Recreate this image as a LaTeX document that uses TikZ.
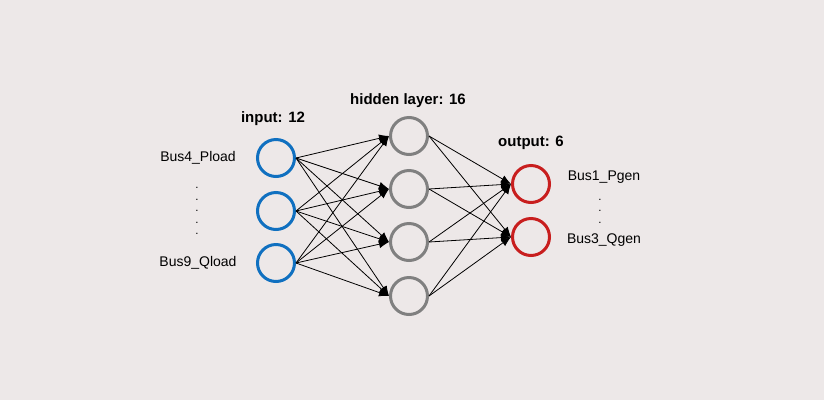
\documentclass[tikz,border=0pt]{standalone}
\usepackage{fontspec}
\setmainfont{Liberation Sans}
\usetikzlibrary{arrows.meta}
\definecolor{mybg}{RGB}{237,232,232}
\definecolor{myblue}{RGB}{16,112,192}
\definecolor{mygray}{RGB}{128,128,128}
\definecolor{myred}{RGB}{200,30,30}
\newcommand{\colhead}[1]{\textbf{#1}}
\tikzset{
    neuron/.style={draw, circle, line width=3pt, minimum size=37pt, inner sep=0pt},
    inneuron/.style={neuron, draw=myblue},
    hidneuron/.style={neuron, draw=mygray},
    outneuron/.style={neuron, draw=myred},
    buslabel/.style={font=\fontsize{14}{16}\selectfont, inner sep=0pt},
    headlabel/.style={font=\fontsize{15}{17}\selectfont, inner sep=0pt},
    dotcol/.style={font=\fontsize{11.5}{11.5}\selectfont, align=center, inner sep=0pt},
    weight/.style={-{Latex[length=10pt,width=8pt]}, line width=0.8pt}
}
\begin{document}
\begin{tikzpicture}[x=1pt, y=-1pt]
    \useasboundingbox[fill=mybg] (0,0) rectangle (824,400);

    % input layer
    \node[inneuron] (I1) at (276,158) {};
    \node[inneuron] (I2) at (276,211) {};
    \node[inneuron] (I3) at (276,263) {};
    \node[headlabel] (Ihead) at (273,119) {\colhead{input: 12}};
    \node[buslabel] (Ifirst) at (198,158) {Bus4\_Pload};
    \node[buslabel] (Ilast) at (198,263) {Bus9\_Qload};
    \node[dotcol] (Idots) at (197,211) {.\\.\\.\\.\\.};

    % hidden layer
    \node[hidneuron] (H1) at (409,136) {};
    \node[hidneuron] (H2) at (409,189) {};
    \node[hidneuron] (H3) at (409,242) {};
    \node[hidneuron] (H4) at (409,296) {};
    \node[headlabel] (Hhead) at (408,101) {\colhead{hidden layer: 16}};

    % output layer
    \node[outneuron] (O1) at (531,184) {};
    \node[outneuron] (O2) at (531,237) {};
    \node[headlabel] (Ohead) at (531,143) {\colhead{output: 6}};
    \node[buslabel] (Ofirst) at (604,177) {Bus1\_Pgen};
    \node[buslabel] (Olast) at (604,240) {Bus3\_Qgen};
    \node[dotcol] (Odots) at (600,211) {.\\.\\.};

    \foreach \i in {1,2,3}
        \foreach \h in {1,2,3,4}
            \draw[weight] (I\i.east) -- (H\h.west);
    \foreach \h in {1,2,3,4}
        \foreach \o in {1,2}
            \draw[weight] (H\h.east) -- (O\o.west);

\end{tikzpicture}
\end{document}
